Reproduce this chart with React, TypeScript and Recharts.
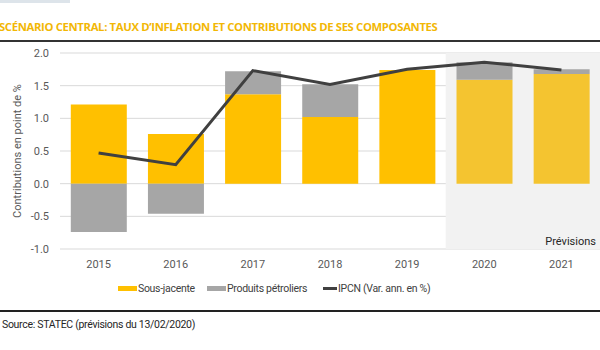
import React from 'react';
import {
  ComposedChart,
  Bar,
  Line,
  XAxis,
  YAxis,
  CartesianGrid,
  ReferenceArea,
  Cell,
} from 'recharts';

const years = ['2015', '2016', '2017', '2018', '2019', '2020', '2021'];
const sousJacente = [1.21, 0.76, 1.37, 1.02, 1.74, 1.59, 1.68];
const petroliers = [-0.74, -0.46, 0.35, 0.5, 0.0, 0.27, 0.07];
const ipcn = [0.47, 0.29, 1.73, 1.52, 1.75, 1.86, 1.74];
const forecastYears = ['2020', '2021'];
const yTicks = [-1, -0.5, 0, 0.5, 1, 1.5, 2];

const data = years.map((year, i) => ({
  year,
  sous: sousJacente[i],
  petro: petroliers[i],
  ipcn: ipcn[i],
}));

const FONT = 'Roboto, "Noto Sans", sans-serif';
const YELLOW = '#FFC000';
const YELLOW_FC = '#F4C430';
const GREY = '#A6A6A6';
const LINE = '#404040';

// legend entries placed where they sit in the original
const LegendItem: React.FC<{ x: number; color: string; label: string; line?: boolean }> = ({
  x,
  color,
  label,
  line,
}) => (
  <div style={{ position: 'absolute', left: x, top: 0, display: 'flex', alignItems: 'center', height: 14 }}>
    <div
      style={{
        width: line ? 14 : 19,
        height: line ? 3 : 5,
        background: color,
        marginRight: 1,
      }}
    />
    <span>{label}</span>
  </div>
);

export default function App() {
  return (
    <div
      style={{
        position: 'absolute',
        left: 0,
        top: 0,
        width: 600,
        height: 350,
        background: '#fff',
        overflow: 'hidden',
        fontFamily: FONT,
      }}
    >
      <div style={{ position: 'absolute', left: 0, top: 0, width: 70, height: 3, background: '#dde4ea' }} />
      <div
        style={{
          position: 'absolute',
          left: -1,
          top: 19,
          fontFamily: '"Open Sans", sans-serif',
          fontWeight: 700,
          fontSize: 11.3,
          color: '#F2B705',
          whiteSpace: 'nowrap',
          letterSpacing: -0.35,
        }}
      >
        SCÉNARIO CENTRAL: TAUX D’INFLATION ET CONTRIBUTIONS DE SES COMPOSANTES
      </div>
      <div style={{ position: 'absolute', left: 0, top: 40, width: 600, height: 2, background: '#333' }} />

      <div
        style={{
          position: 'absolute',
          left: 17,
          top: 151,
          transform: 'translate(-50%, -50%) rotate(-90deg)',
          fontSize: 11,
          color: '#595959',
          whiteSpace: 'nowrap',
        }}
      >
        Contributions en point de %
      </div>

      <div style={{ position: 'absolute', left: 0, top: 0 }}>
        <ComposedChart
          width={600}
          height={280}
          data={data}
          stackOffset="sign"
          barCategoryGap="14%"
          margin={{ top: 53, right: 0, bottom: 11, left: 0 }}
        >
          <ReferenceArea
            x1={forecastYears[0]}
            x2={forecastYears[forecastYears.length - 1]}
            y1={-1}
            y2={2}
            fill="#f2f2f2"
            fillOpacity={1}
            stroke="none"
            ifOverflow="visible"
            label={{
              value: 'Prévisions',
              position: 'insideBottomRight',
              fill: '#262626',
              fontSize: 11,
              fontFamily: FONT,
              offset: 4,
            }}
          />
          <CartesianGrid vertical={false} stroke="#d9d9d9" strokeWidth={1} />
          <XAxis
            dataKey="year"
            axisLine={false}
            tickLine={false}
            height={20}
            tickMargin={5}
            tick={{ fontSize: 11, fill: '#595959', fontFamily: FONT }}
          />
          <YAxis
            domain={[-1, 2]}
            ticks={yTicks}
            width={60}
            axisLine={false}
            tickLine={false}
            tickMargin={5}
            tickFormatter={(v: number) => v.toFixed(1)}
            tick={{ fontSize: 11, fill: '#595959', fontFamily: FONT }}
          />
          <Bar dataKey="sous" stackId="a" isAnimationActive={false}>
            {data.map((d) => (
              <Cell key={d.year} fill={forecastYears.includes(d.year) ? YELLOW_FC : YELLOW} />
            ))}
          </Bar>
          <Bar dataKey="petro" stackId="a" fill={GREY} isAnimationActive={false} />
          <Line
            dataKey="ipcn"
            type="linear"
            stroke={LINE}
            strokeWidth={3}
            dot={false}
            isAnimationActive={false}
          />
        </ComposedChart>
      </div>

      <div
        style={{
          position: 'absolute',
          left: 0,
          top: 281,
          width: 600,
          height: 14,
          fontSize: 10.5,
          letterSpacing: -0.3,
          color: '#404040',
          whiteSpace: 'nowrap',
        }}
      >
        <LegendItem x={118} color={YELLOW} label="Sous-jacente" />
        <LegendItem x={207} color={GREY} label="Produits pétroliers" />
        <LegendItem x={323} color={LINE} label="IPCN (Var. ann. en %)" line />
      </div>

      <div style={{ position: 'absolute', left: 0, top: 310, width: 600, height: 2, background: '#222' }} />
      <div
        style={{
          position: 'absolute',
          left: 2,
          top: 318,
          fontSize: 10.5,
          letterSpacing: -0.3,
          color: '#262626',
          whiteSpace: 'nowrap',
        }}
      >
        Source: STATEC (prévisions du 13/02/2020)
      </div>
    </div>
  );
}
